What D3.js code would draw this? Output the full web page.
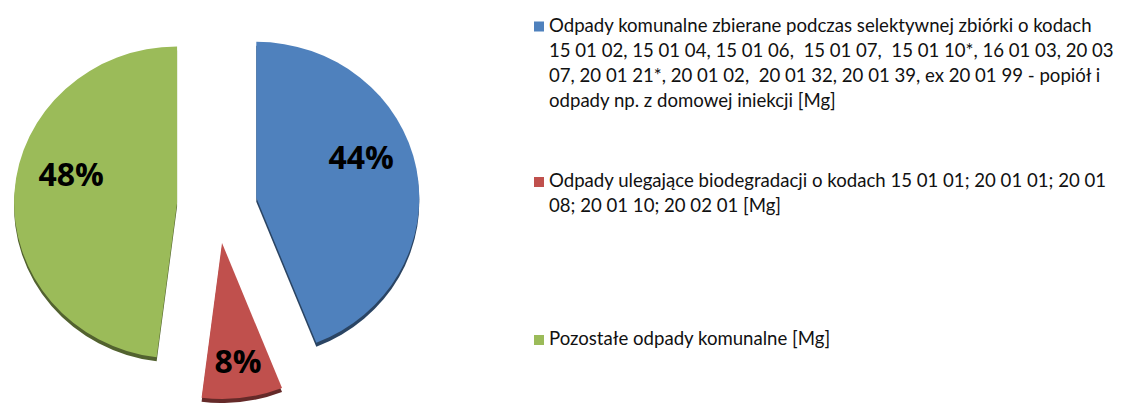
<!DOCTYPE html>
<html>
<head>
<meta charset="utf-8">
<script src="https://cdn.jsdelivr.net/npm/d3@7"></script>
<style>
  body { margin: 0; background: #fff; }
  svg { display: block; }
</style>
</head>
<body>
<svg width="1135" height="403"></svg>
<script>
// chart data
var categories = [
    "Odpady komunalne zbierane podczas selektywnej zbiórki o kodach 15 01 02, 15 01 04, 15 01 06,  15 01 07,  15 01 10*, 16 01 03, 20 03 07, 20 01 21*, 20 01 02,  20 01 32, 20 01 39, ex 20 01 99 - popiół i odpady np. z domowej iniekcji [Mg]",
    "Odpady ulegające biodegradacji o kodach 15 01 01; 20 01 01; 20 01 08; 20 01 10; 20 02 01 [Mg]",
    "Pozostałe odpady komunalne [Mg]"
];
var shares = [44, 8, 48];
var sliceLabels = ["44%", "8%", "48%"];
// legend lines, wrapped the way the original wraps them
var legendLines = [
    ["Odpady komunalne zbierane podczas selektywnej zbiórki o kodach",
     "15 01 02, 15 01 04, 15 01 06,  15 01 07,  15 01 10*, 16 01 03, 20 03",
     "07, 20 01 21*, 20 01 02,  20 01 32, 20 01 39, ex 20 01 99 - popiół i",
     "odpady np. z domowej iniekcji [Mg]"],
    ["Odpady ulegające biodegradacji o kodach 15 01 01; 20 01 01; 20 01",
     "08; 20 01 10; 20 02 01 [Mg]"],
    ["Pozostałe odpady komunalne [Mg]"]
];
var colors = ["#4f81bd", "#c0504d", "#9bbb59"];

var svg = d3.select("svg"),
    cx = 217,
    cy = 205,
    radius = 163,
    tiltY = 0.957,
    explode = 40,
    depth = 4;

var color = d3.scaleOrdinal().domain(categories).range(colors);

var pie = d3.pie().sort(null).value(function (d) { return d.value; });
var arc = d3.arc().innerRadius(0).outerRadius(radius);

var data = pie(categories.map(function (c, i) {
    return { name: c, value: shares[i], label: sliceLabels[i] };
}));

function mid(d) { return (d.startAngle + d.endAngle) / 2; }
function offX(d) { return Math.sin(mid(d)) * explode; }
function offY(d) { return -Math.cos(mid(d)) * explode; }

var pieG = svg.append("g")
    .attr("transform", "translate(" + cx + "," + cy + ") scale(1," + tiltY + ")");

// side (thickness) first, then the top faces
pieG.selectAll(".side")
    .data(data)
    .enter().append("path")
    .attr("class", "side")
    .attr("transform", function (d) {
        return "translate(" + offX(d) + "," + (offY(d) + depth / tiltY) + ")";
    })
    .attr("d", arc)
    .style("fill", function (d) { return d3.color(color(d.data.name)).darker(1.8); });

pieG.selectAll(".slice")
    .data(data)
    .enter().append("path")
    .attr("class", "slice")
    .attr("transform", function (d) {
        return "translate(" + offX(d) + "," + offY(d) + ")";
    })
    .attr("d", arc)
    .style("fill", function (d) { return color(d.data.name); });

// percentage labels, pushed a bit further out on the lower slices
function labelR(d) {
    var c = Math.cos(mid(d));
    return 106 + 22 * c * c;
}
svg.selectAll(".pct")
    .data(data)
    .enter().append("text")
    .attr("class", "pct")
    .attr("x", function (d) {
        return cx + offX(d) + Math.sin(mid(d)) * labelR(d);
    })
    .attr("y", function (d) {
        var a = mid(d);
        return cy + (offY(d) - Math.cos(a) * labelR(d)) * tiltY - 22 * Math.abs(Math.sin(a));
    })
    .attr("dy", "0.36em")
    .attr("text-anchor", "middle")
    .style("font", "bold 32px 'Open Sans', sans-serif")
    .style("fill", "#000")
    .text(function (d) { return d.data.label; });

// legend
var legendX = 549,
    legendRight = 1129,
    lineH = 25.3,
    itemTop = [31.5, 187, 345];

var legend = svg.append("g").attr("class", "legend");

// find a font size so that the longest line fits the space on the right
var probe = legend.append("text").style("font", "16px Lato, sans-serif");
var fit = 99;
legendLines.forEach(function (lines) {
    lines.forEach(function (l) {
        probe.text(l);
        fit = Math.min(fit, 16 * (legendRight - legendX) / probe.node().getComputedTextLength());
    });
});
probe.remove();
var fontSize = Math.min(fit, 18.6);

var rows = legend.selectAll(".legend-row")
    .data(categories)
    .enter().append("g")
    .attr("class", "legend-row")
    .attr("transform", function (d, i) {
        return "translate(0," + itemTop[i] + ")";
    });

rows.append("rect")
    .attr("x", legendX - 15)
    .attr("y", -10)
    .attr("width", 10)
    .attr("height", 10)
    .style("fill", color);

rows.append("text")
    .attr("x", legendX)
    .style("font", fontSize + "px Lato, sans-serif")
    .style("fill", "#111")
    .each(function (d, i) {
        var t = d3.select(this);
        legendLines[i].forEach(function (l, j) {
            t.append("tspan")
                .attr("x", legendX)
                .attr("y", j * lineH)
                .style("white-space", "pre")
                .text(l);
        });
    });
</script>
</body>
</html>
